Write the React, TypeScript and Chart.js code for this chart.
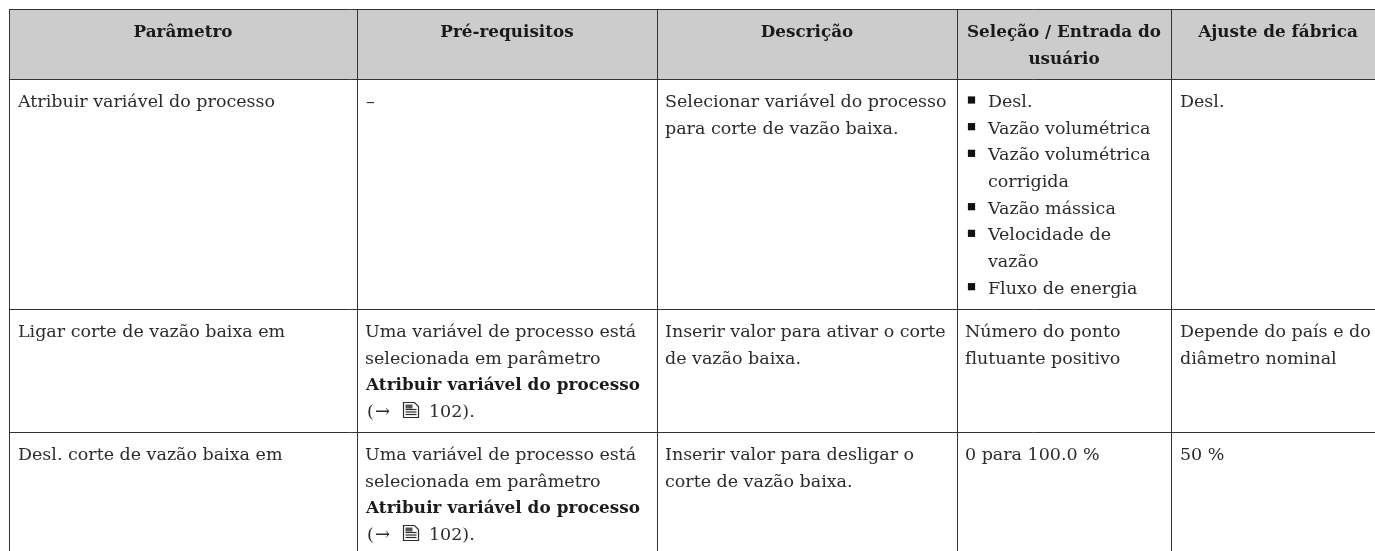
import React, { useEffect, useRef } from "react";
import { Chart, registerables } from "chart.js";

Chart.register(...registerables);

const headers = [
  ["Parâmetro"],
  ["Pré-requisitos"],
  ["Descrição"],
  ["Seleção / Entrada do", "usuário"],
  ["Ajuste de fábrica"],
];
const parameters = ["Atribuir variável do processo", "Ligar corte de vazão baixa em", "Desl. corte de vazão baixa em"];
const prerequisiteLines = ["Uma variável de processo está", "selecionada em parâmetro"];
const prerequisiteBold = "Atribuir variável do processo";
const pageRef = "102).";
const descriptions = [
  ["Selecionar variável do processo", "para corte de vazão baixa."],
  ["Inserir valor para ativar o corte", "de vazão baixa."],
  ["Inserir valor para desligar o", "corte de vazão baixa."],
];
const selectionOptions = [
  ["Desl."],
  ["Vazão volumétrica"],
  ["Vazão volumétrica", "corrigida"],
  ["Vazão mássica"],
  ["Velocidade de", "vazão"],
  ["Fluxo de energia"],
];
const selectionOther = [["Número do ponto", "flutuante positivo"], ["0 para 100.0 %"]];
const factoryDefaults = [["Desl."], ["Depende do país e do", "diâmetro nominal"], ["50 %"]];

const COL = [9, 357, 657, 957, 1171];
const ROW = [9, 79, 309, 432];
const X_MAX = 1375;
const Y_MAX = 551;
const LINE = 26.67;
const BASE = 28;
const PAD = 9;
const FACE = '"DejaVu Serif"';
const INK = "#2b2b2b";

const regular = `17.5px ${FACE}`;
const bold = `bold 16.8px ${FACE}`;
const TARGET_REG = 257;
const TARGET_BOLD = 274;
const TARGET_HEAD = 194;

function spacing(ctx: any, font: string, sample: string, target: number) {
  ctx.save();
  ctx.font = font;
  ctx.letterSpacing = "0px";
  const w = ctx.measureText(sample).width;
  ctx.restore();
  return (target - w) / (sample.length - 1);
}

function bulletPoints() {
  const pts: { x: number; y: number }[] = [];
  let line = 0;
  selectionOptions.forEach((o) => {
    pts.push({ x: 971.5, y: ROW[1] + BASE + line * LINE - 7 });
    line += o.length;
  });
  return pts;
}

const tablePlugin = {
  id: "table",
  beforeDraw(chart: any) {
    const { ctx, scales } = chart;
    const x = scales.x;
    const y = scales.y;
    ctx.save();
    ctx.fillStyle = "#cccccc";
    ctx.fillRect(x.getPixelForValue(COL[0]), y.getPixelForValue(ROW[0]), x.getPixelForValue(X_MAX) - x.getPixelForValue(COL[0]), y.getPixelForValue(ROW[1]) - y.getPixelForValue(ROW[0]));
    ctx.restore();
  },
  afterDraw(chart: any) {
    const { ctx, scales } = chart;
    const x = scales.x;
    const y = scales.y;
    const lsReg = spacing(ctx, regular, parameters[0], TARGET_REG);
    const lsBold = spacing(ctx, bold, prerequisiteBold, TARGET_BOLD);
    const lsHead = spacing(ctx, bold, headers[3][0], TARGET_HEAD);
    ctx.save();
    ctx.fillStyle = INK;
    ctx.textBaseline = "alphabetic";

    const put = (s: string, px: number, py: number, font = regular, ls = lsReg, align = "left") => {
      ctx.font = font;
      ctx.letterSpacing = ls + "px";
      ctx.textAlign = align;
      ctx.fillText(s, x.getPixelForValue(px), y.getPixelForValue(py));
    };
    const lines = (arr: string[], px: number, top: number) => arr.forEach((s, i) => put(s, px, top + BASE + i * LINE));

    const edges = [...COL, X_MAX];
    headers.forEach((h, c) => {
      const center = c === 4 ? 1278 : (edges[c] + edges[c + 1]) / 2;
      h.forEach((s, i) => {
        ctx.fillStyle = "#1a1a1a";
        put(s, center, ROW[0] + BASE + i * LINE, bold, lsHead, "center");
      });
    });
    ctx.fillStyle = INK;

    parameters.forEach((p, r) => put(p, COL[0] + PAD, ROW[r + 1] + BASE));
    descriptions.forEach((d, r) => lines(d, COL[2] + 8, ROW[r + 1]));
    factoryDefaults.forEach((d, r) => lines(d, COL[4] + PAD, ROW[r + 1]));
    selectionOther.forEach((d, r) => lines(d, COL[3] + 8, ROW[r + 2]));

    let l = 0;
    selectionOptions.flat().forEach((s) => {
      put(s, 988, ROW[1] + BASE + l * LINE);
      l += 1;
    });

    put("–", COL[1] + PAD, ROW[1] + BASE);

    [ROW[2], ROW[3]].forEach((top) => {
      const px = COL[1] + 8;
      lines(prerequisiteLines, px, top);
      ctx.fillStyle = "#1a1a1a";
      put(prerequisiteBold, px + 1, top + BASE + 2 * LINE, bold, lsBold);
      ctx.fillStyle = INK;
      const base = top + BASE + 3 * LINE;
      put("(", px + 2, base);
      put("→", px + 10, base, `18px ${FACE}`, -2);
      put(pageRef, 429, base);
      // page icon
      const ix = Math.round(x.getPixelForValue(403)) + 0.5;
      const iy = Math.round(y.getPixelForValue(base - 15)) + 0.5;
      ctx.strokeStyle = INK;
      ctx.lineWidth = 1.2;
      ctx.beginPath();
      ctx.moveTo(ix, iy);
      ctx.lineTo(ix + 11, iy);
      ctx.lineTo(ix + 15, iy + 4);
      ctx.lineTo(ix + 15, iy + 15);
      ctx.lineTo(ix, iy + 15);
      ctx.closePath();
      ctx.stroke();
      ctx.fillStyle = "#555555";
      ctx.fillRect(ix + 2, iy + 2, 7, 4);
      ctx.fillStyle = INK;
      [7, 9.5, 12].forEach((d) => {
        ctx.beginPath();
        ctx.moveTo(ix + 2, iy + d);
        ctx.lineTo(ix + 13, iy + d);
        ctx.stroke();
      });
    });
    ctx.restore();
  },
};

export default function App() {
  const ref = useRef<HTMLCanvasElement>(null);
  useEffect(() => {
    const chart = new Chart(ref.current as HTMLCanvasElement, {
      type: "scatter",
      data: {
        datasets: [
          {
            data: bulletPoints(),
            pointStyle: "rect",
            pointRadius: 5.1,
            backgroundColor: "#111111",
            borderColor: "#111111",
            borderWidth: 0,
          },
        ],
      },
      options: {
        animation: false,
        responsive: false,
        layout: { autoPadding: false, padding: { left: COL[0], top: ROW[0], right: 0, bottom: 0 } },
        plugins: { legend: { display: false }, tooltip: { enabled: false } },
        events: [],
        scales: {
          x: {
            type: "linear",
            min: COL[0],
            max: X_MAX,
            afterBuildTicks: (a: any) => { a.ticks = COL.map((value) => ({ value })); },
            ticks: { display: false },
            border: { display: false },
            grid: { color: "#333333", lineWidth: 1, drawTicks: false },
          },
          y: {
            type: "linear",
            reverse: true,
            min: ROW[0],
            max: Y_MAX,
            afterBuildTicks: (a: any) => { a.ticks = ROW.map((value) => ({ value })); },
            ticks: { display: false },
            border: { display: false },
            grid: { color: "#333333", lineWidth: 1, drawTicks: false },
          },
        },
      },
      plugins: [tablePlugin],
    } as any);
    return () => chart.destroy();
  }, []);
  return <canvas ref={ref} width={1375} height={551} style={{ position: "fixed", left: 0, top: 0, display: "block" }} />;
}
